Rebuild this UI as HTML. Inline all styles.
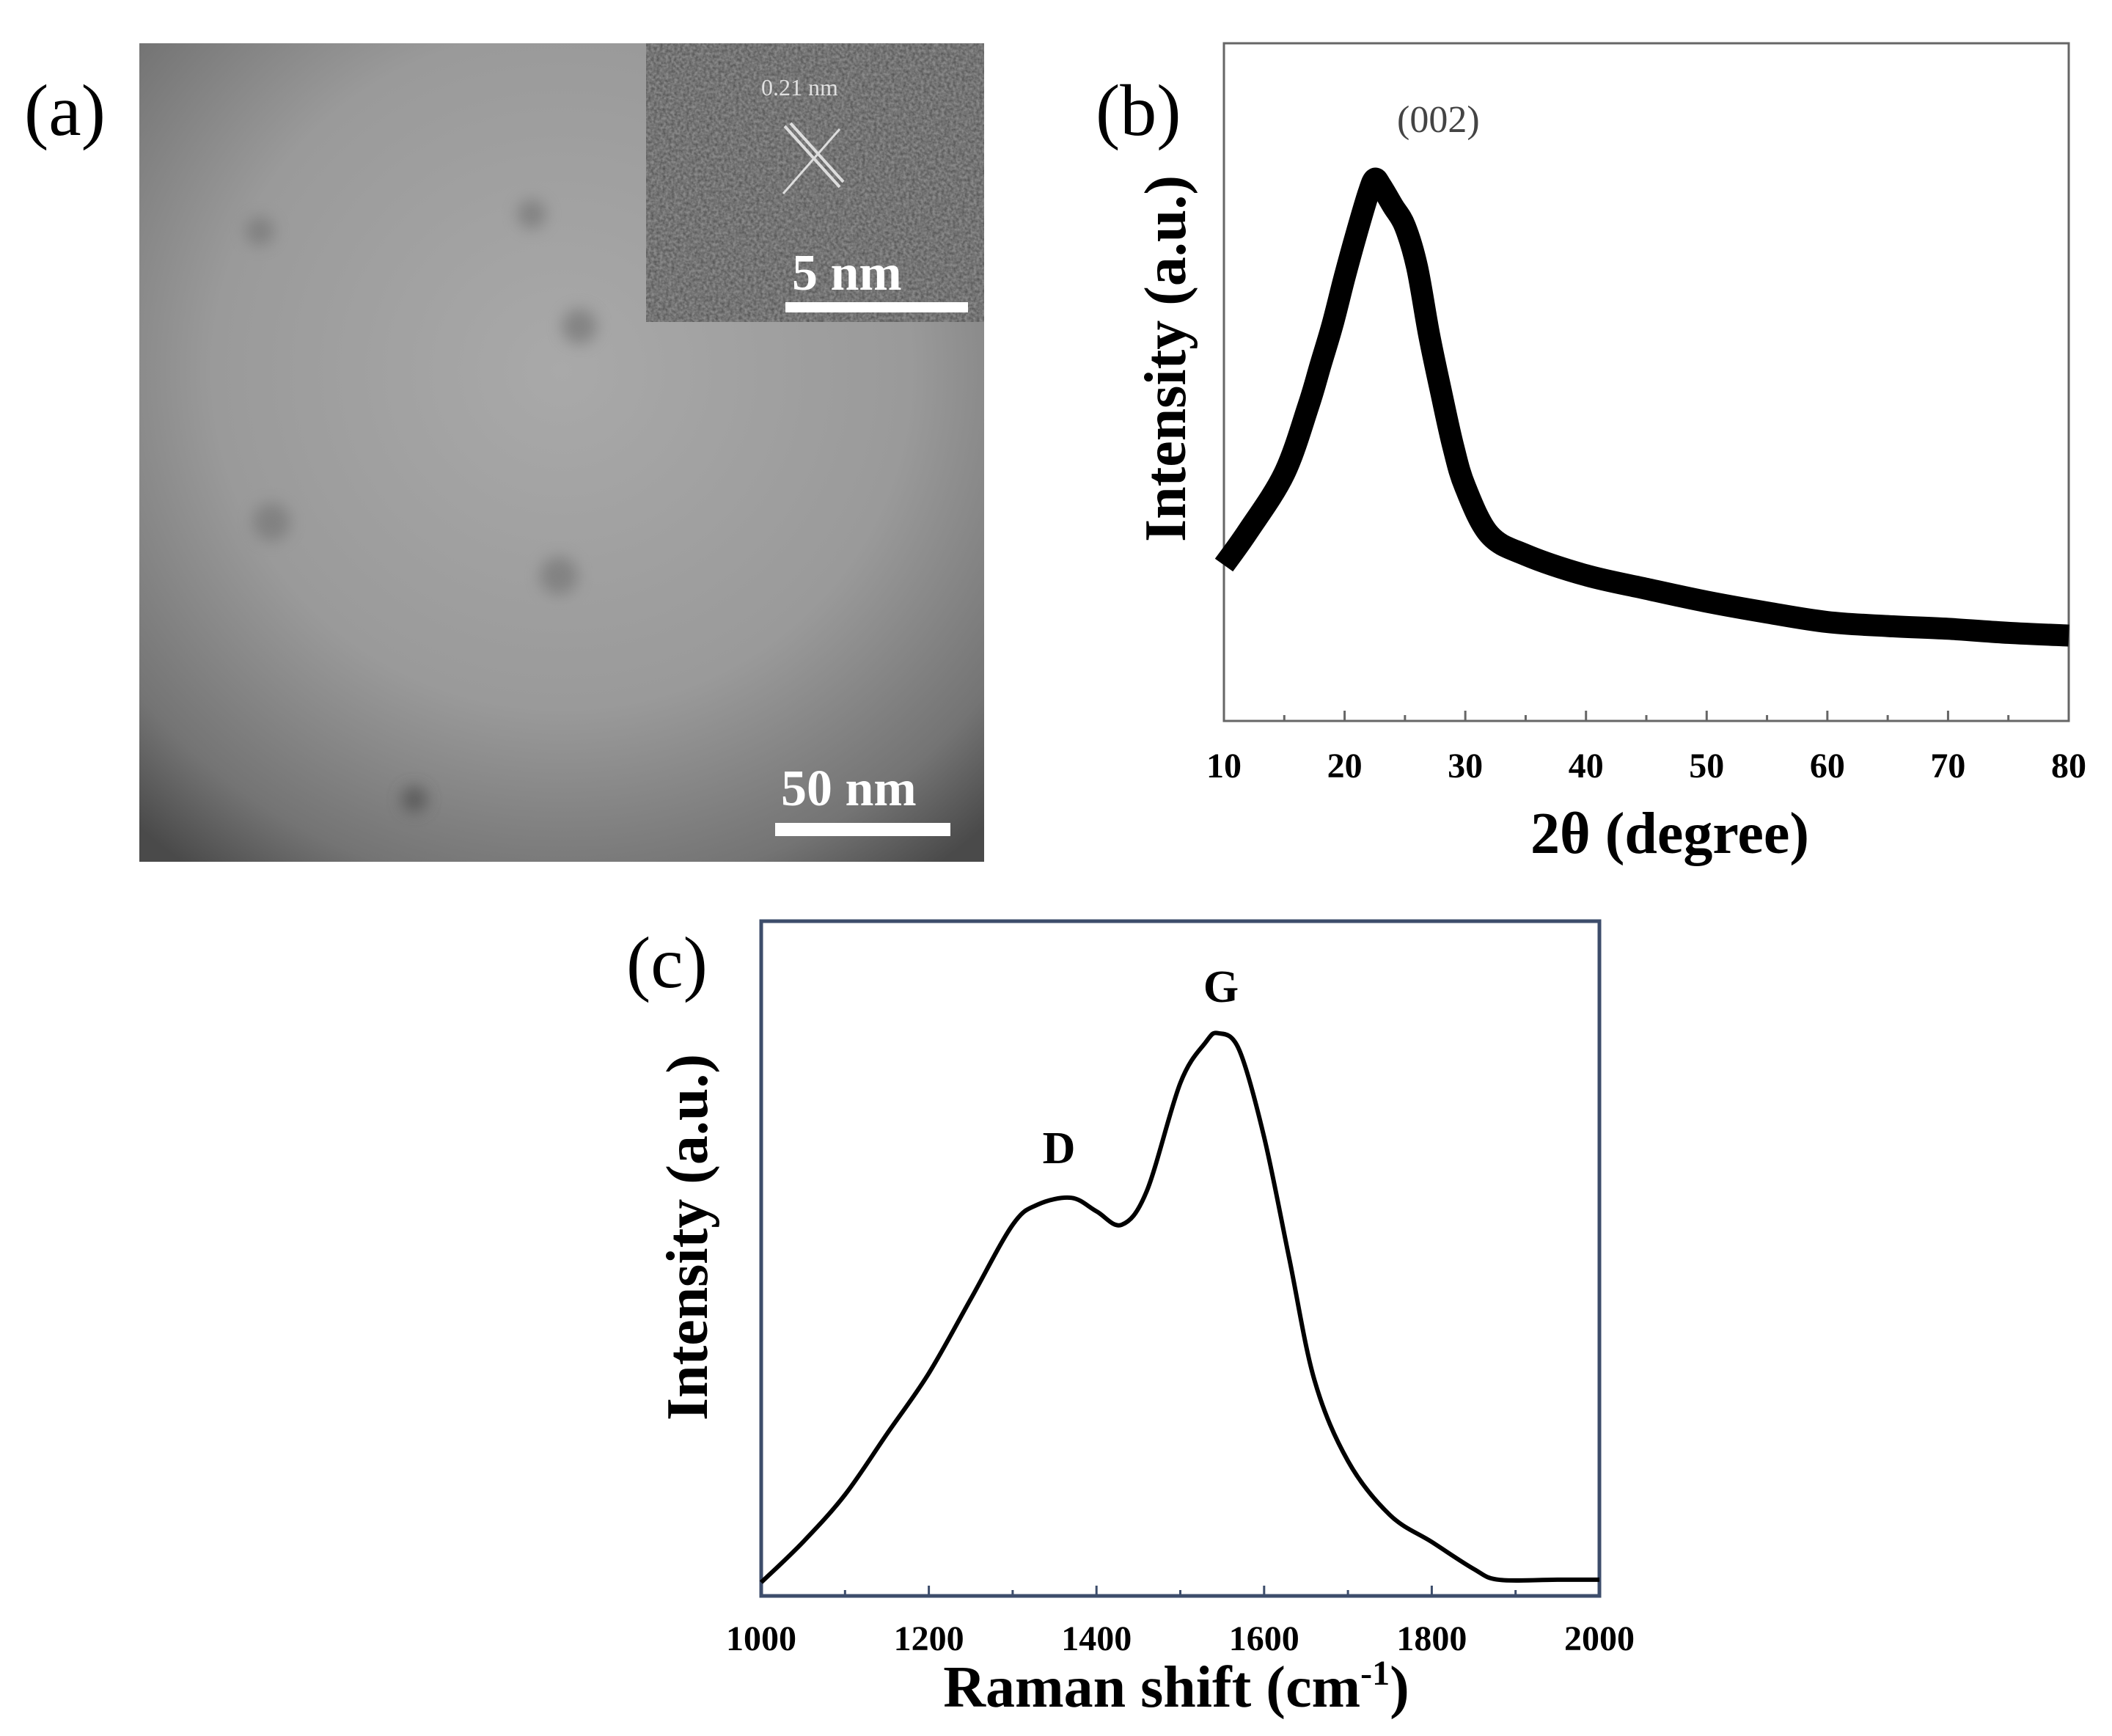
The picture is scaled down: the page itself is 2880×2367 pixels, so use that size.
<!DOCTYPE html>
<html><head><meta charset="utf-8"><style>
html,body{margin:0;padding:0;background:#fff}
svg{display:block}
text{font-family:"Liberation Serif","DejaVu Serif",serif}
</style></head><body>
<svg id="fig" width="2880" height="2367" viewBox="0 0 2880 2367" xmlns="http://www.w3.org/2000/svg">
<defs>
<radialGradient id="temg" cx="0.5" cy="0.4" r="0.75">
<stop offset="0" stop-color="#a9a9a9"/><stop offset="0.55" stop-color="#9a9a9a"/><stop offset="0.85" stop-color="#747474"/><stop offset="1" stop-color="#4a4a4a"/>
</radialGradient>
<filter id="grain" x="0" y="0" width="1" height="1"><feTurbulence type="fractalNoise" baseFrequency="0.25" numOctaves="2" seed="3"/><feColorMatrix type="matrix" values="0 0 0 0 0.25  0 0 0 0 0.25  0 0 0 0 0.25  1.6 0 0 0 -0.2"/></filter>
<filter id="blur"><feGaussianBlur stdDeviation="10"/></filter>
</defs>

<!-- panel a -->
<text x="33" y="184" font-size="100">(a)</text>
<g>
<rect x="190" y="59" width="1152" height="1116" fill="url(#temg)"/>
<g filter="url(#blur)" fill="#7c7c7c" opacity="0.8">
<circle cx="354" cy="315" r="20"/><circle cx="725" cy="292" r="20"/><circle cx="790" cy="445" r="24"/>
<circle cx="370" cy="712" r="26"/><circle cx="762" cy="785" r="26"/><circle cx="565" cy="1090" r="18" fill="#555"/>
</g>
</g>
<g>
<rect x="881" y="59" width="461" height="380" fill="#555"/>
<rect x="881" y="59" width="461" height="380" filter="url(#grain)"/>
<line x1="1070" y1="172" x2="1145" y2="255" stroke="#ddd" stroke-width="4"/>
<line x1="1078" y1="168" x2="1150" y2="248" stroke="#ddd" stroke-width="4"/>
<line x1="1145" y1="176" x2="1068" y2="264" stroke="#ddd" stroke-width="3"/>
<text x="1038" y="130" font-size="32" fill="#e0e0e0">0.21 nm</text>
<text x="1080" y="395" font-size="70" font-weight="bold" fill="#fff">5  nm</text>
<rect x="1071" y="412" width="249" height="14" fill="#fff"/>
</g>
<text x="1065" y="1098" font-size="70" font-weight="bold" fill="#fff">50 nm</text>
<rect x="1057" y="1122" width="239" height="18" fill="#fff"/>

<!-- panel b -->
<text x="1494" y="184" font-size="100">(b)</text>
<g id="chartB"></g>
<!-- panel c -->
<text x="854" y="1346" font-size="100">(c)</text>
<g id="chartC"></g>
</svg>
<script>
// XRD data
const xrdAngles = [10,12,15,17,18,19,20,21,22,22.5,23,24,25,26,27,28,29,30,32,35,40,45,50,55,60,65,70,75,80];
const xrdIntensity = [23,28,36.5,46.5,52.5,58.5,65.5,72,78,80,79,76,73,67,57,48.5,40.5,34.5,27.5,24.5,21.5,19.5,17.6,16,14.6,14,13.6,13,12.6];
const xrdTicks = [10,20,30,40,50,60,70,80];
// Raman data
const ramanShift = [1000,1050,1100,1150,1200,1250,1300,1330,1370,1400,1430,1460,1500,1530,1545,1570,1600,1630,1660,1700,1750,1800,1850,1880,1950,2000];
const ramanIntensity = [2,8,15,24,33,44,55,58,59,57,55,60,76,82,83.4,81,68,50,32,20,12,8,4,2.4,2.4,2.4];
const ramanTicks = [1000,1200,1400,1600,1800,2000];

const NS="http://www.w3.org/2000/svg";
function mk(parent,tag,attrs){const e=document.createElementNS(NS,tag);for(const k in attrs)e.setAttribute(k,attrs[k]);parent.appendChild(e);return e;}
function smoothPath(pts){let d=`M${pts[0][0]},${pts[0][1]}`;for(let i=0;i<pts.length-1;i++){const p0=pts[i-1]||pts[i],p1=pts[i],p2=pts[i+1],p3=pts[i+2]||p2;
d+=` C${p1[0]+(p2[0]-p0[0])/6},${p1[1]+(p2[1]-p0[1])/6} ${p2[0]-(p3[0]-p1[0])/6},${p2[1]-(p3[1]-p1[1])/6} ${p2[0]},${p2[1]}`;}return d;}

function chart(g,o){
  const sx=v=>o.x0+(v-o.xmin)/(o.xmax-o.xmin)*(o.x1-o.x0);
  const sy=v=>o.y1-v/100*(o.y1-o.y0);
  const box=mk(g,'rect',{x:o.x0,y:o.y0,width:o.x1-o.x0,height:o.y1-o.y0,fill:'none',stroke:o.boxColor,'stroke-width':o.boxW});
  
  
  const step=(o.ticks[1]-o.ticks[0])/2;
  for(let v=o.xmin;v<=o.xmax+1e-9;v+=step){
    const major=o.ticks.some(t=>Math.abs(t-v)<1e-9);
    const t=mk(g,'line',{x1:sx(v),x2:sx(v),y1:o.y1,y2:o.y1-(major?14:8),stroke:o.boxColor,'stroke-width':3});
    
    
  }
  o.ticks.forEach(v=>{const t=mk(g,'text',{x:sx(v),y:o.labY,'font-size':o.labSize,'font-weight':'bold','text-anchor':'middle'});t.textContent=v;
    
    });
  const pts=o.xs.map((x,i)=>[sx(x),sy(o.ys[i])]);
  const p=mk(g,'path',{d:smoothPath(pts),fill:'none',stroke:'#000','stroke-width':o.lineW,'stroke-linejoin':'round','stroke-linecap':'butt'});
  
  
  const xt=mk(g,'text',{x:o.xtX,y:o.xtY,'font-size':80,'font-weight':'bold','text-anchor':'middle'});xt.innerHTML=o.xTitle;
  
  
  const yt=mk(g,'text',{x:0,y:0,'font-size':80,'font-weight':'bold','text-anchor':'middle',transform:`translate(${o.ytX},${o.ytY}) rotate(-90)`});yt.textContent='Intensity (a.u.)';
  
  
}
chart(document.getElementById('chartB'),{x0:1669,x1:2821,y0:59,y1:983,xmin:10,xmax:80,ticks:xrdTicks,xs:xrdAngles,ys:xrdIntensity,
  boxColor:'#666',boxW:3,lineW:30,labY:1060,labSize:48,xTitle:'2θ (degree)',xtX:2277,xtY:1163,ytX:1616,ytY:489});
chart(document.getElementById('chartC'),{x0:1038,x1:2181,y0:1256,y1:2176,xmin:1000,xmax:2000,ticks:ramanTicks,xs:ramanShift,ys:ramanIntensity,
  boxColor:'#3d4d6b',boxW:5,lineW:6,labY:2250,labSize:48,xTitle:'Raman shift (cm<tspan dy="-30" font-size="48">-1</tspan><tspan dy="30">)</tspan>',xtX:1604,xtY:2327,ytX:964,ytY:1687});
const gc=document.getElementById('chartC');
const G=mk(gc,'text',{x:1665,y:1366,'font-size':62,'font-weight':'bold','text-anchor':'middle'});G.textContent='G';


const D=mk(gc,'text',{x:1444,y:1586,'font-size':62,'font-weight':'bold','text-anchor':'middle'});D.textContent='D';


const gb=document.getElementById('chartB');
const pk=mk(gb,'text',{x:1905,y:180,'font-size':52,fill:'#444'});pk.textContent='(002)';


</script>
</body></html>
